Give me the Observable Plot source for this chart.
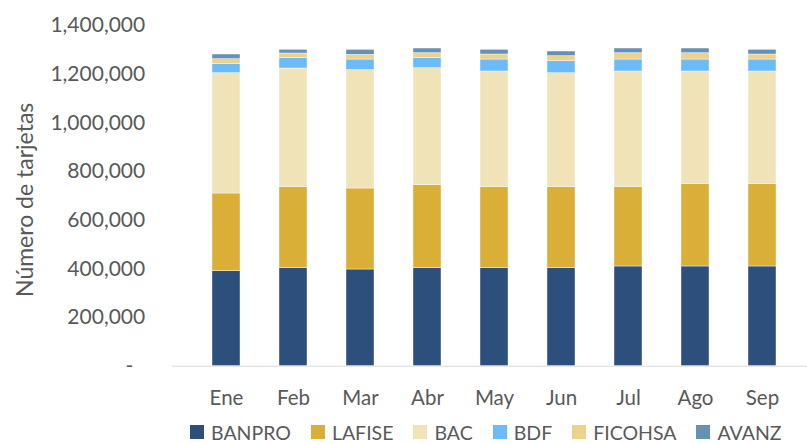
<!DOCTYPE html>
<html><head><meta charset="utf-8">
<script src="https://cdn.jsdelivr.net/npm/d3@7"></script>
<script src="https://cdn.jsdelivr.net/npm/@observablehq/plot@0.6"></script>
<style>
body{margin:0;background:#fff;font-family:Lato,"Open Sans",sans-serif;}
#chart svg{display:block;}
#legend{display:flex;justify-content:flex-start;align-items:center;height:24px;padding-left:190px;font-family:Lato,"Open Sans",sans-serif;font-size:19.5px;color:#595959;}
#legend .item{display:flex;align-items:center;margin-right:20px;}
#legend .sw{width:14px;height:14px;margin-right:7px;}
</style></head><body>
<div id="chart"></div>
<div id="legend"></div>
<script>
const months = ["Ene","Feb","Mar","Abr","May","Jun","Jul","Ago","Sep"];
const banks = ["BANPRO","LAFISE","BAC","BDF","FICOHSA","AVANZ"];
const bankColors = ["#2C4F7C","#DAAF37","#F0E3B8","#6BBBF9","#EDD28C","#6790B5"];
const banpro  = [390400,402700,397300,402700,402700,402700,409700,409700,409700];
const lafise  = [319200,332800,332900,341000,332800,332800,325800,338100,338100];
const bac     = [494300,487800,486100,480800,475400,468400,475400,463100,463100];
const bdf     = [37000,43900,43900,42700,49300,49300,49300,49300,49300];
const ficohsa = [20600,17700,19300,18900,20600,20600,25900,25900,20600];
const avanz   = [19300,15200,20600,19300,19300,19300,19300,19300,19300];
const yTicks  = [200000,400000,600000,800000,1000000,1200000,1400000];
const yTitle = "Número de tarjetas";

const series = [banpro, lafise, bac, bdf, ficohsa, avanz];
const data = months.flatMap((m, i) => banks.map((b, j) => ({month: m, bank: b, value: series[j][i]})));

const W = 807, H = 420;
const chart = Plot.plot({
  width: W, height: H,
  marginTop: 25, marginBottom: H - 365.7, marginLeft: 171.7, marginRight: 0,
  style: {fontFamily: "Lato, 'Open Sans', sans-serif", fontSize: "20px", color: "#595959", background: "#fff"},
  x: {domain: months, range: [171.7, 816], padding: 0.585, label: null},
  y: {domain: [0, 1400000], label: null},
  color: {domain: banks, range: bankColors},
  marks: [
    Plot.barY(data, Plot.stackY({order: banks}, {x: "month", y: "value", fill: "bank", stroke: "#fff", strokeWidth: 0.6, strokeOpacity: 0.7})),
    Plot.ruleY([0], {stroke: "#D9D9D9", strokeWidth: 1}),
    Plot.axisY(yTicks, {tickSize: 0, tickPadding: 27, tickFormat: d3.format(","), fill: "#595959", fontSize: 21, label: null}),
    Plot.text([0], {y: d => d, text: () => "-", frameAnchor: "left", textAnchor: "end", dx: -39, fill: "#595959", fontSize: 21}),
    Plot.axisX({tickSize: 0, tickPadding: 24, fill: "#595959", fontSize: 20.5, label: null}),
    Plot.text([yTitle], {text: d => d, frameAnchor: "left", textAnchor: "middle", rotate: -90, dx: -147, dy: 4, fill: "#595959", fontSize: 23})
  ]
});
document.getElementById("chart").appendChild(chart);

const legend = document.getElementById("legend");
banks.forEach((b, j) => {
  const it = document.createElement("div");
  it.className = "item";
  const sw = document.createElement("div");
  sw.className = "sw";
  sw.style.background = bankColors[j];
  const t = document.createElement("span");
  t.textContent = b;
  it.appendChild(sw); it.appendChild(t);
  legend.appendChild(it);
});
</script></body></html>
